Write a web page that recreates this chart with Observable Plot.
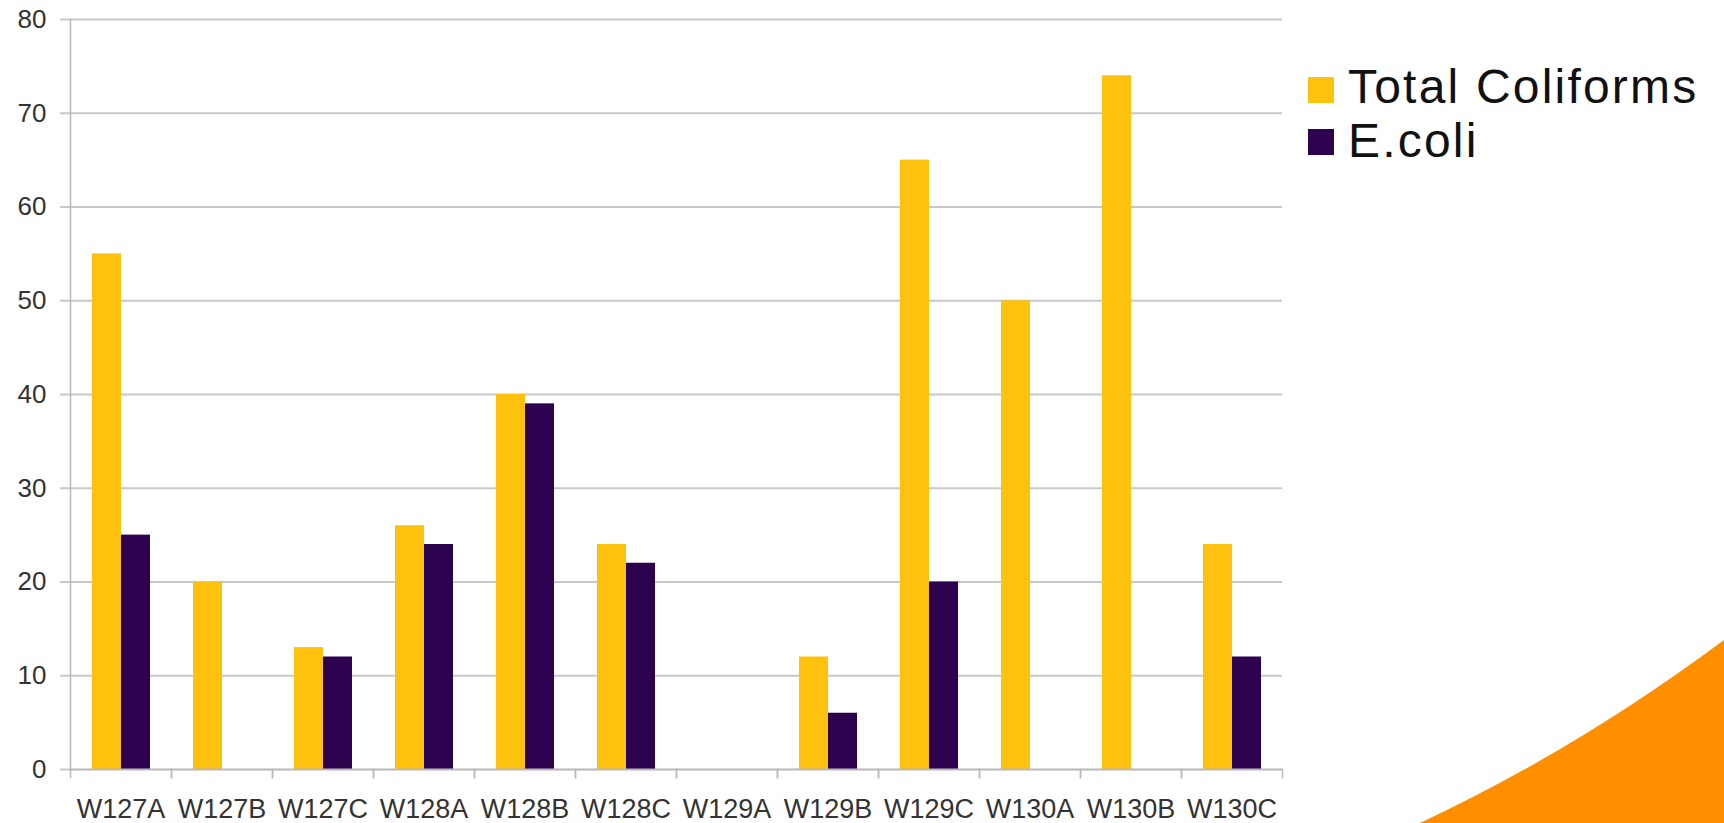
<!DOCTYPE html>
<html>
<head>
<meta charset="utf-8">
<script src="https://cdn.jsdelivr.net/npm/d3@7"></script>
<script src="https://cdn.jsdelivr.net/npm/@observablehq/plot@0.6"></script>
<style>
  html, body { margin: 0; padding: 0; background: #ffffff; }
  body { width: 1724px; height: 823px; position: relative; overflow: hidden; font-family: "Liberation Sans", Arial, sans-serif; }
  #chart { position: absolute; left: 0; top: 0; }
  #deco { position: absolute; left: 0; top: 0; }
  .sw { position: absolute; left: 1308px; width: 26px; height: 26px; }
  .legend-text { position: absolute; left: 1348px; top: 60px; font-size: 48px; line-height: 54px; letter-spacing: 2.2px; color: #111; white-space: nowrap; }
</style>
</head>
<body>
<svg id="deco" width="1724" height="823"><path d="M1420,823 Q1576,750 1724,640 L1724,823 Z" fill="#FF8F00"/></svg>
<div id="chart"></div>
<div id="legend"></div>
<script>
const categories = ["W127A","W127B","W127C","W128A","W128B","W128C","W129A","W129B","W129C","W130A","W130B","W130C"];
const series = ["Total Coliforms", "E.coli"];
const totalColiforms = [55, 20, 13, 26, 40, 24, 0, 12, 65, 50, 74, 24];
const eColi = [25, 0, 12, 24, 39, 22, 0, 6, 20, 0, 0, 12];
const yTicks = [0, 10, 20, 30, 40, 50, 60, 70, 80];
const seriesColors = ["#FEC10E", "#2D0350"];

const rows = categories.flatMap((c, i) => [
  {category: c, series: series[0], value: totalColiforms[i]},
  {category: c, series: series[1], value: eColi[i]}
]);

const gridColor = "#c8c8c8";
const axisColor = "#b8b8b8";

const chart = Plot.plot({
  width: 1724,
  height: 823,
  marginLeft: 67,
  marginRight: 439,
  marginTop: 19,
  marginBottom: 54,
  style: {fontFamily: "'Liberation Sans', Arial, sans-serif", background: "transparent", overflow: "visible"},
  fx: {domain: categories, padding: 0},
  x: {domain: series, paddingInner: 0, paddingOuter: 0.7, axis: null},
  y: {domain: [0, 80], axis: null},
  color: {domain: series, range: seriesColors},
  marks: [
    Plot.ruleY(yTicks.filter(t => t > 0), {stroke: gridColor, strokeWidth: 2}),
    Plot.axisY({ticks: yTicks, tickSize: 10, tickPadding: 14, stroke: gridColor, strokeWidth: 2, fill: "#333", fontSize: 26, label: null}),
    Plot.frame({anchor: "left", facetAnchor: "left", stroke: axisColor, strokeWidth: 1.5}),
    Plot.barY(rows, {fx: "category", x: "series", y: "value", fill: "series"}),
    Plot.ruleY([0], {stroke: axisColor, strokeWidth: 2}),
    Plot.frame({anchor: "left", stroke: axisColor, strokeWidth: 1.5, insetTop: 750, insetBottom: -8}),
    Plot.frame({anchor: "right", stroke: axisColor, strokeWidth: 1.5, insetTop: 750, insetBottom: -8}),
    Plot.axisFx({anchor: "bottom", tickSize: 0, tickPadding: 29, fill: "#333", fontSize: 27, label: null})
  ]
});
document.getElementById("chart").appendChild(chart);

const legend = document.getElementById("legend");
const swatchTops = [77, 129];
series.forEach((s, i) => {
  const sw = document.createElement("div");
  sw.className = "sw";
  sw.style.background = seriesColors[i];
  sw.style.top = swatchTops[i] + "px";
  legend.appendChild(sw);
});
const text = document.createElement("div");
text.className = "legend-text";
series.forEach((s, i) => {
  if (i > 0) text.appendChild(document.createElement("br"));
  text.appendChild(document.createTextNode(s));
});
legend.appendChild(text);
</script>
</body>
</html>
